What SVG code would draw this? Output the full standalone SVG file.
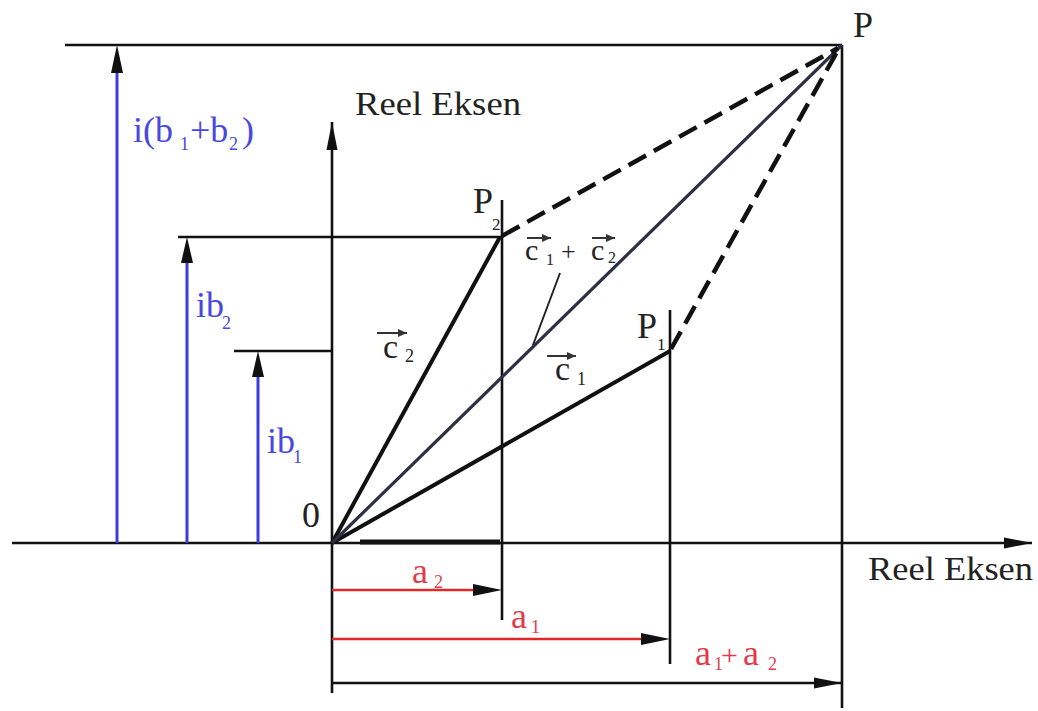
<svg xmlns="http://www.w3.org/2000/svg" width="1038" height="711" viewBox="0 0 1038 711">
<style>
.ln{stroke:#111;stroke-width:2.6;fill:none}
.bl{stroke:#3c3ce0;stroke-width:3;fill:none}
.rd{stroke:#e02828;stroke-width:2.6;fill:none}
.vec{stroke:#111;stroke-width:4;fill:none}
.dash{stroke:#111;stroke-width:4.5;fill:none;stroke-dasharray:20 9}
text{font-family:'Liberation Serif','DejaVu Serif','Times New Roman',serif}
.t{fill:#222}
.tb{fill:#4848e0}
.tr{fill:#e23a4a}
.sa{stroke:#333;stroke-width:2;fill:none}
</style>
<defs>
<marker id="ah" markerUnits="userSpaceOnUse" markerWidth="30" markerHeight="14" refX="28" refY="7" orient="auto">
<path d="M0,1.5 L28,7 L0,12.5 Z" fill="#111"/>
</marker>
<marker id="sh" markerUnits="userSpaceOnUse" markerWidth="10" markerHeight="10" refX="9" refY="5" orient="auto">
<path d="M0,1 L9,5 L0,9 Z" fill="#333"/>
</marker>
</defs>

<g id="axes">
<line class="ln" x1="12" y1="543" x2="1032" y2="543" marker-end="url(#ah)"/>
<line class="ln" x1="332" y1="693" x2="332" y2="122" marker-end="url(#ah)"/>
<line x1="360" y1="542" x2="500" y2="542" stroke="#111" stroke-width="5"/>
<text class="t" x="355" y="115" font-size="34" textLength="166" lengthAdjust="spacingAndGlyphs">Reel Eksen</text>
<text class="t" x="868" y="580" font-size="34" textLength="165" lengthAdjust="spacingAndGlyphs">Reel Eksen</text>
<text class="t" x="302" y="527" font-size="36">0</text>
</g>

<g id="guides">
<line class="ln" x1="65" y1="45" x2="842" y2="45"/>
<line class="ln" x1="842" y1="45" x2="842" y2="708"/>
<line class="ln" x1="178" y1="237" x2="502" y2="237"/>
<line class="ln" x1="234" y1="351" x2="332" y2="351"/>
<line class="ln" x1="502" y1="200" x2="502" y2="620"/>
<line class="ln" x1="670" y1="310" x2="670" y2="664"/>
</g>

<g id="connectors">
<line class="vec" x1="332" y1="543" x2="500" y2="237"/>
<line class="vec" x1="332" y1="543" x2="670" y2="351"/>
<line x1="332" y1="543" x2="842" y2="45" stroke="#2e2e44" stroke-width="3.2"/>
<line class="dash" x1="502" y1="236" x2="838" y2="48"/>
<line class="dash" x1="671" y1="349" x2="838" y2="50"/>
<line x1="560" y1="273" x2="533" y2="345" stroke="#222" stroke-width="2"/>
</g>

<g id="node-P">
<text class="t" x="853" y="37" font-size="36">P</text>
</g>
<g id="node-P2">
<text class="t" x="473" y="213" font-size="36">P</text>
<text class="t" x="492" y="230" font-size="17">2</text>
</g>
<g id="node-P1">
<text class="t" x="637" y="338" font-size="36">P</text>
<text class="t" x="657" y="350" font-size="17">1</text>
</g>

<g id="label-c2">
<line class="sa" x1="377" y1="333" x2="407" y2="333" marker-end="url(#sh)"/>
<text class="t" x="383" y="358" font-size="34">c</text>
<text class="t" x="405" y="362" font-size="18">2</text>
</g>
<g id="label-c1">
<line class="sa" x1="547" y1="356" x2="576" y2="356" marker-end="url(#sh)"/>
<text class="t" x="555" y="380" font-size="34">c</text>
<text class="t" x="577" y="385" font-size="18">1</text>
</g>
<g id="label-c1c2">
<line class="sa" x1="527" y1="238" x2="551" y2="238" marker-end="url(#sh)"/>
<text class="t" x="525" y="260" font-size="30">c</text>
<text class="t" x="546" y="265" font-size="16">1</text>
<text class="t" x="561" y="260" font-size="26" fill="#777">+</text>
<line class="sa" x1="592" y1="238" x2="615" y2="238" marker-end="url(#sh)"/>
<text class="t" x="591" y="260" font-size="30">c</text>
<text class="t" x="608" y="263" font-size="16">2</text>
</g>

<g id="imag-parts">
<line class="bl" x1="117" y1="543" x2="117" y2="72"/>
<path d="M111,73 L117,45 L123,73 Z" fill="#111"/>
<text class="tb" x="133" y="142" font-size="36">i(b</text>
<text class="tb" x="180" y="150" font-size="18">1</text>
<text class="tb" x="190" y="142" font-size="36">+b</text>
<text class="tb" x="229" y="150" font-size="18">2</text>
<text class="tb" x="242" y="142" font-size="36">)</text>

<line class="bl" x1="187" y1="543" x2="187" y2="262"/>
<path d="M181,263 L187,237 L193,263 Z" fill="#111"/>
<text class="tb" x="196" y="317" font-size="36">ib</text>
<text class="tb" x="222" y="329" font-size="18">2</text>

<line class="bl" x1="258" y1="543" x2="258" y2="376"/>
<path d="M252,377 L258,351 L264,377 Z" fill="#111"/>
<text class="tb" x="267" y="453" font-size="36">ib</text>
<text class="tb" x="293" y="463" font-size="18">1</text>
</g>

<g id="real-parts">
<line class="rd" x1="332" y1="590" x2="474" y2="590"/>
<path d="M473,584 L502,590 L473,596 Z" fill="#111"/>
<text class="tr" x="412" y="583" font-size="36">a</text>
<text class="tr" x="434" y="588" font-size="18">2</text>

<line class="rd" x1="332" y1="639" x2="642" y2="639"/>
<path d="M641,633 L670,639 L641,645 Z" fill="#111"/>
<text class="tr" x="511" y="628" font-size="36">a</text>
<text class="tr" x="531" y="633" font-size="18">1</text>

<line class="ln" x1="332" y1="683" x2="842" y2="683" marker-end="url(#ah)"/>
<text class="tr" x="695" y="665" font-size="36">a</text>
<text class="tr" x="714" y="670" font-size="18">1</text>
<text class="tr" x="721" y="665" font-size="30">+</text>
<text class="tr" x="743" y="665" font-size="36">a</text>
<text class="tr" x="768" y="670" font-size="18">2</text>
</g>
</svg>
